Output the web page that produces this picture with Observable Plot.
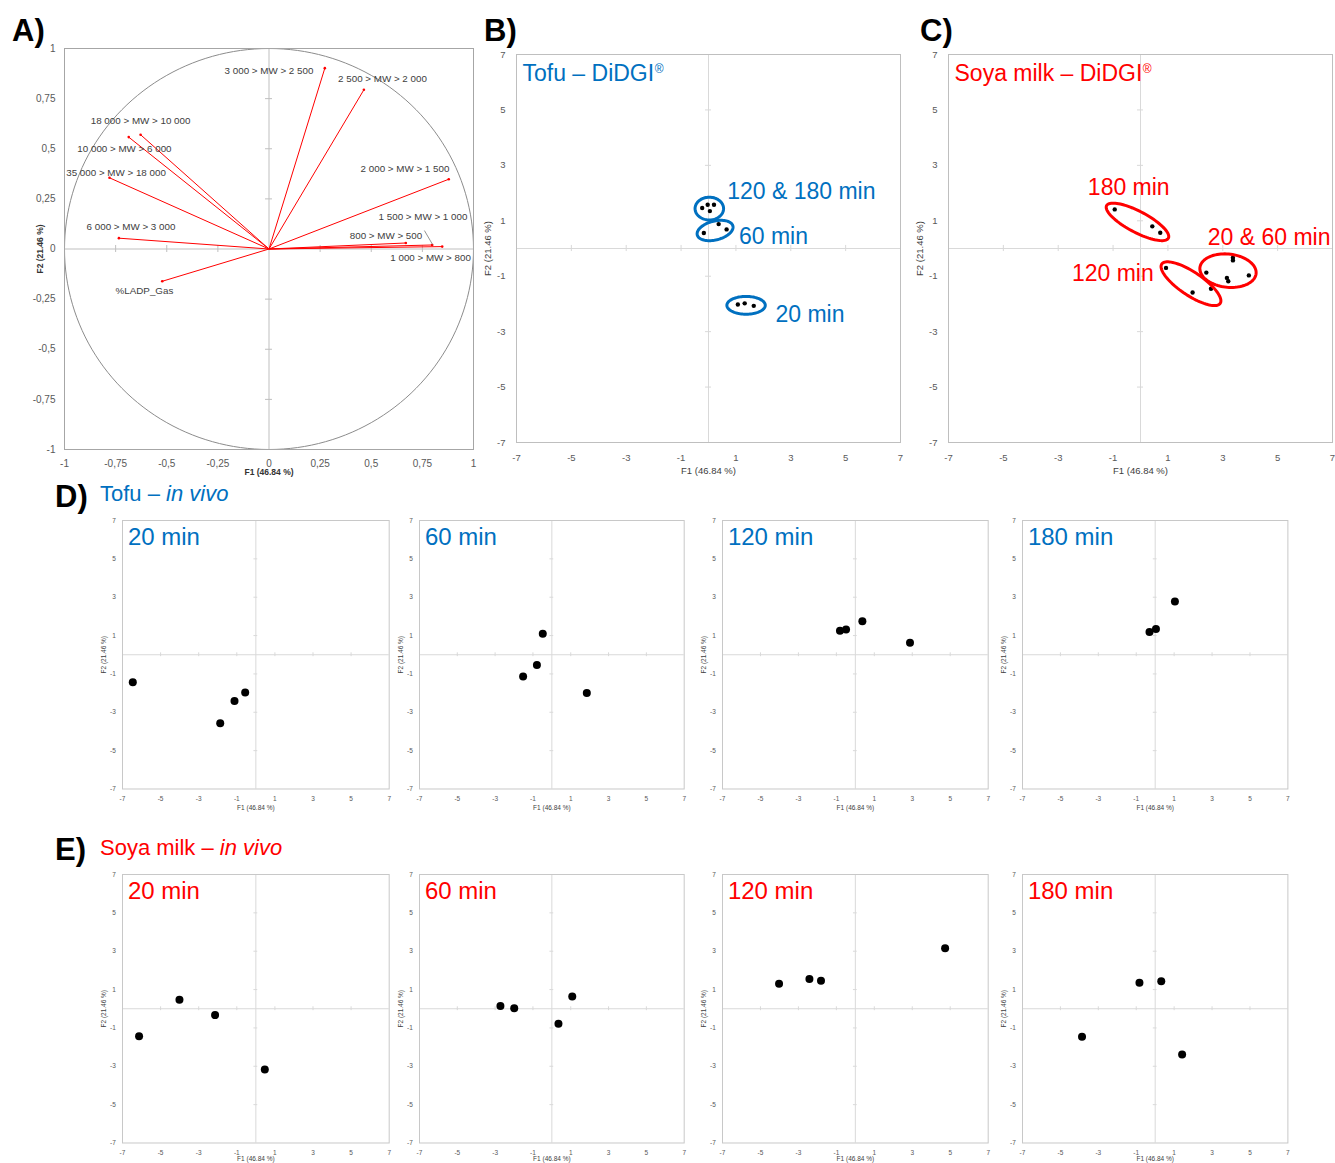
<!DOCTYPE html>
<html><head><meta charset="utf-8">
<script src="https://cdn.jsdelivr.net/npm/d3@7"></script>
<script src="https://cdn.jsdelivr.net/npm/@observablehq/plot@0.6"></script>
<style>
body{margin:0;background:#fff;}
#fig{position:relative;width:1335px;height:1163px;overflow:hidden;font-family:"Liberation Sans",Arial,Helvetica,sans-serif;background:#fff;}
#fig svg{position:absolute;overflow:visible;}
.h{position:absolute;white-space:nowrap;line-height:1;}
</style></head><body><div id="fig"></div><script>
// ---------------- DATA ----------------
// Panel A: correlation circle (variables)
const varNames = ["3 000 > MW > 2 500","2 500 > MW > 2 000","2 000 > MW > 1 500","1 500 > MW > 1 000","1 000 > MW > 800","800 > MW > 500","6 000 > MW > 3 000","10 000 > MW > 6 000","18 000 > MW > 10 000","35 000 > MW > 18 000","%LADP_Gas"];
const varF1 = [0.273, 0.464, 0.879, 0.798, 0.847, 0.669, -0.734, -0.686, -0.628, -0.780, -0.522];
const varF2 = [0.902, 0.794, 0.348, 0.020, 0.012, 0.030, 0.054, 0.558, 0.570, 0.355, -0.161];
// label placement (data units) for the variable names
const varLabelF1 = [0.000, 0.555, 0.665, 0.753, 0.790, 0.572, -0.675, -0.707, -0.628, -0.748, -0.609];
const varLabelF2 = [0.890, 0.850, 0.401, 0.162, -0.042, 0.067, 0.112, 0.501, 0.641, 0.382, -0.207];

// Panel B: Tofu – DiDGI
const tofuDidgiGroup = ["120 & 180 min","120 & 180 min","120 & 180 min","120 & 180 min","60 min","60 min","60 min","20 min","20 min","20 min"];
const tofuDidgiF1 = [-0.23, -0.03, 0.20, 0.05, -0.17, 0.37, 0.66, 1.07, 1.32, 1.65];
const tofuDidgiF2 = [1.46, 1.58, 1.58, 1.35, 0.56, 0.88, 0.69, -2.02, -1.98, -2.07];
const tofuDidgiClusters = ["120 & 180 min", "60 min", "20 min"];
const tofuDidgiClusterCx = [0.03, 0.24, 1.37];
const tofuDidgiClusterCy = [1.44, 0.65, -2.05];
const tofuDidgiClusterRx = [0.52, 0.67, 0.70];
const tofuDidgiClusterRy = [0.41, 0.34, 0.32];
const tofuDidgiClusterAngle = [0, 14, 0];
const tofuDidgiLabelF1 = [0.68, 1.11, 2.44];
const tofuDidgiLabelF2 = [1.80, 0.15, -2.65];

// Panel C: Soya milk – DiDGI
const soyDidgiGroup = ["180 min","180 min","180 min","120 min","120 min","120 min","20 & 60 min","20 & 60 min","20 & 60 min","20 & 60 min","20 & 60 min","20 & 60 min"];
const soyDidgiF1 = [-0.94, 0.43, 0.72, 0.93, 1.90, 2.57, 2.40, 3.37, 3.37, 3.15, 3.20, 3.95];
const soyDidgiF2 = [1.41, 0.80, 0.57, -0.70, -1.59, -1.45, -0.87, -0.33, -0.43, -1.06, -1.18, -0.97];
const soyDidgiClusters = ["180 min", "120 min", "20 & 60 min"];
const soyDidgiClusterCx = [-0.11, 1.84, 3.19];
const soyDidgiClusterCy = [0.96, -1.27, -0.80];
const soyDidgiClusterRx = [1.27, 1.28, 1.03];
const soyDidgiClusterRy = [0.38, 0.42, 0.60];
const soyDidgiClusterAngle = [-27.5, -33.6, -6];
const soyDidgiLabelF1 = [-1.92, -2.50, 2.45];
const soyDidgiLabelF2 = [1.92, -1.17, 0.12];

// Panels D & E: in vivo
const inVivoTimes = ["20 min", "60 min", "120 min", "180 min"];
const tofuInVivoF1 = [[-6.46, -1.87, -1.12, -0.56], [-0.48, -0.79, -1.52, 1.85], [-0.81, -0.49, 0.37, 2.88], [-0.30, 0.04, 1.04]];
const tofuInVivoF2 = [[-1.43, -3.57, -2.41, -1.97], [1.09, -0.54, -1.13, -2.00], [1.25, 1.32, 1.75, 0.63], [1.18, 1.34, 2.78]];
const soyInVivoF1 = [[-6.13, -4.01, -2.14, 0.47], [-2.72, -1.99, 0.35, 1.08], [-4.02, -2.42, -1.81, 4.73], [-0.83, 0.32, -3.86, 1.42]];
const soyInVivoF2 = [[-1.43, 0.47, -0.33, -3.17], [0.14, 0.02, -0.78, 0.64], [1.30, 1.55, 1.46, 3.15], [1.36, 1.44, -1.46, -2.38]];

// Axis ticks
const ticksA = [-1, -0.75, -0.5, -0.25, 0, 0.25, 0.5, 0.75, 1];
const ticksPCA = [-7, -5, -3, -1, 1, 3, 5, 7];
const xTitle = "F1 (46.84 %)";
const yTitle = "F2 (21.46 %)";

// ---------------- DRAWING ----------------
const FONT = '"Liberation Sans", Arial, Helvetica, sans-serif';
const BLUE = "#0070C0", RED = "#FF0000";
const fig = document.getElementById("fig");
const measureCtx = document.createElement("canvas").getContext("2d");
function textWidth(s, size) {
  measureCtx.font = `${size}px "Liberation Sans", Arial, sans-serif`;
  return measureCtx.measureText(s).width;
}

function heading(html, left, baseline, size, color, weight) {
  const d = document.createElement("div");
  d.className = "h";
  d.innerHTML = html;
  d.style.left = left + "px";
  d.style.top = (baseline - 0.8465 * size) + "px";
  d.style.fontSize = size + "px";
  d.style.color = color;
  d.style.fontWeight = weight || "normal";
  fig.append(d);
}

function zeroTicks(ticks, hx, hy, stroke) {
  const t = ticks.filter(v => v !== 0 && Math.abs(v) !== d3.max(ticks));
  return [
    Plot.ruleX(t, {x: d => d, y1: -hy, y2: hy, stroke, strokeWidth: 1}),
    Plot.ruleY(t, {y: d => d, x1: -hx, x2: hx, stroke, strokeWidth: 1})
  ];
}

function ellipsePoints(names, cx, cy, rx, ry, ang) {
  const pts = [];
  names.forEach((n, i) => {
    const a = ang[i] * Math.PI / 180;
    for (let t = 0; t <= 360; t += 4) {
      const u = t * Math.PI / 180;
      pts.push({id: n,
        x: cx[i] + rx[i] * Math.cos(u) * Math.cos(a) - ry[i] * Math.sin(u) * Math.sin(a),
        y: cy[i] + rx[i] * Math.cos(u) * Math.sin(a) + ry[i] * Math.sin(u) * Math.cos(a)});
    }
  });
  return pts;
}

function place(o) {
  const svg = Plot.plot({
    width: o.w + o.mL + o.mR, height: o.h + o.mT + o.mB,
    marginLeft: o.mL, marginTop: o.mT, marginRight: o.mR, marginBottom: o.mB,
    x: {domain: o.domain, ticks: o.ticks, tickFormat: o.fmt, tickSize: 0, tickPadding: o.padX, label: null},
    y: {domain: o.domain, ticks: o.ticks, tickFormat: o.fmt, tickSize: 0, tickPadding: o.padY, label: null},
    style: {fontFamily: FONT, fontSize: o.tickFont + "px", color: "#595959", background: "none", overflow: "visible"},
    marks: [
      ...o.under,
      Plot.frame({stroke: o.frameStroke}),
      Plot.text([xTitle], {frameAnchor: "bottom", dy: o.xTitleDy, text: d => d, fill: o.titleFill, fontSize: o.titleFont,
        fontWeight: o.titleWeight || "normal", textAnchor: "middle", lineAnchor: "middle"}),
      Plot.text([yTitle], {frameAnchor: "left", dx: o.yTitleDx, rotate: -90, text: d => d, fill: o.titleFill, fontSize: o.titleFont,
        fontWeight: o.titleWeight || "normal", textAnchor: "middle", lineAnchor: "middle"}),
      ...o.marks
    ]
  });
  svg.style.left = (o.left - o.mL) + "px";
  svg.style.top = (o.top - o.mT) + "px";
  fig.append(svg);
}

// ---- Panel A ----
const vectors = varNames.map((n, i) => ({name: n, f1: varF1[i], f2: varF2[i], lx: varLabelF1[i], ly: varLabelF2[i]}));
const circle = d3.range(0, 361, 2).map(a => ({x: Math.cos(a * Math.PI / 180), y: Math.sin(a * Math.PI / 180)}));
const leader = [{x1: 0.760, y1: 0.092, x2: 0.800, y2: 0.022}];
place({
  left: 64, top: 48, w: 409, h: 401, mL: 64, mT: 48, mR: 10, mB: 35,
  domain: [-1, 1], ticks: ticksA, fmt: d => String(d).replace(".", ","), padX: 10, padY: 9, tickFont: 10,
  frameStroke: "#a6a6a6", titleFill: "#333", titleFont: 8.5, titleWeight: "bold", xTitleDy: 23, yTitleDx: -24,
  under: [
    Plot.ruleX([0], {stroke: "#bfbfbf"}), Plot.ruleY([0], {stroke: "#bfbfbf"}),
    ...zeroTicks(ticksA, 0.017, 0.0175, "#bfbfbf"),
    Plot.line(circle, {x: "x", y: "y", stroke: "#8c8c8c", strokeWidth: 1})
  ],
  marks: [
    Plot.link(vectors, {x1: () => 0, y1: () => 0, x2: "f1", y2: "f2", stroke: RED, strokeWidth: 1}),
    Plot.dot(vectors, {x: "f1", y: "f2", r: 1.3, fill: RED}),
    Plot.link(leader, {x1: "x1", y1: "y1", x2: "x2", y2: "y2", stroke: "#666", strokeWidth: 0.7}),
    Plot.text(vectors, {x: "lx", y: "ly", text: "name", fontSize: 9.8, fill: "#404040"})
  ]
});

// ---- Panels B & C ----
function didgiPanel(left, color, title, group, f1, f2, cl, cx, cy, rx, ry, ang, lx, ly) {
  const pts = f1.map((v, i) => ({g: group[i], f1: v, f2: f2[i]}));
  const labs = cl.map((n, i) => ({name: n, x: lx[i], y: ly[i]}));
  const tw = textWidth(title, 23);
  place({
    left, top: 54, w: 384, h: 388, mL: 40, mT: 10, mR: 5, mB: 35,
    domain: [-7, 7], ticks: ticksPCA, fmt: d => String(d), padX: 12, padY: 11, tickFont: 9.5,
    frameStroke: "#bfbfbf", titleFill: "#404040", titleFont: 9.5, xTitleDy: 28, yTitleDx: -29,
    under: [
      Plot.ruleX([0], {stroke: "#d9d9d9"}), Plot.ruleY([0], {stroke: "#d9d9d9"}),
      ...zeroTicks(ticksPCA, 0.11, 0.11, "#d9d9d9")
    ],
    marks: [
      Plot.dot(pts, {x: "f1", y: "f2", r: 2.2, fill: "black"}),
      Plot.line(ellipsePoints(cl, cx, cy, rx, ry, ang), {x: "x", y: "y", z: "id", stroke: color, strokeWidth: 3}),
      Plot.text(labs, {x: "x", y: "y", text: "name", fill: color, fontSize: 23, textAnchor: "start", lineAnchor: "bottom"}),
      Plot.text([title], {frameAnchor: "top-left", dx: 6, dy: 26.5, text: d => d, fill: color, fontSize: 23, textAnchor: "start", lineAnchor: "bottom"}),
      Plot.text(["®"], {frameAnchor: "top-left", dx: 6 + tw + 0.5, dy: 18.5, text: d => d, fill: color, fontSize: 12, textAnchor: "start", lineAnchor: "bottom"})
    ]
  });
}
didgiPanel(516, BLUE, "Tofu – DiDGI", tofuDidgiGroup, tofuDidgiF1, tofuDidgiF2, tofuDidgiClusters,
  tofuDidgiClusterCx, tofuDidgiClusterCy, tofuDidgiClusterRx, tofuDidgiClusterRy, tofuDidgiClusterAngle, tofuDidgiLabelF1, tofuDidgiLabelF2);
didgiPanel(947.5, RED, "Soya milk – DiDGI", soyDidgiGroup, soyDidgiF1, soyDidgiF2, soyDidgiClusters,
  soyDidgiClusterCx, soyDidgiClusterCy, soyDidgiClusterRx, soyDidgiClusterRy, soyDidgiClusterAngle, soyDidgiLabelF1, soyDidgiLabelF2);

// ---- Panels D & E ----
const smallLefts = [122.3, 419.3, 722, 1022.3];
const smallWidths = [266.7, 264.7, 265.7, 265.4];
function inVivoRow(top, color, F1, F2, xTitleDy) {
  inVivoTimes.forEach((t, k) => {
    const pts = F1[k].map((v, i) => ({f1: v, f2: F2[k][i]}));
    place({
      left: smallLefts[k], top, w: smallWidths[k], h: 268.5, mL: 25, mT: 5, mR: 4, mB: 20,
      domain: [-7, 7], ticks: ticksPCA, fmt: d => String(d), padX: 7.7, padY: 6.6, tickFont: 6.5,
      frameStroke: "#c8c8c8", titleFill: "#404040", titleFont: 6.5, xTitleDy, yTitleDx: -19,
      under: [
        Plot.ruleX([0], {stroke: "#d9d9d9"}), Plot.ruleY([0], {stroke: "#d9d9d9"}),
        ...zeroTicks(ticksPCA, 0.1, 0.1, "#d9d9d9")
      ],
      marks: [
        Plot.dot(pts, {x: "f1", y: "f2", r: 4, fill: "black"}),
        Plot.text([t], {frameAnchor: "top-left", dx: 5.4, dy: 24.3, text: d => d, fill: color, fontSize: 24, textAnchor: "start", lineAnchor: "bottom"})
      ]
    });
  });
}
inVivoRow(520, BLUE, tofuInVivoF1, tofuInVivoF2, 19);
inVivoRow(874.3, RED, soyInVivoF1, soyInVivoF2, 15.5);

// ---- Headings ----
heading("A)", 12, 41, 31, "#000", "bold");
heading("B)", 484, 41, 31, "#000", "bold");
heading("C)", 920, 41, 31, "#000", "bold");
heading("D)", 55, 507, 31, "#000", "bold");
heading("E)", 55, 860, 31, "#000", "bold");
heading("Tofu – <i>in vivo</i>", 100, 502, 22, BLUE);
heading("Soya milk – <i>in vivo</i>", 100, 856, 22, RED);
</script></body></html>
